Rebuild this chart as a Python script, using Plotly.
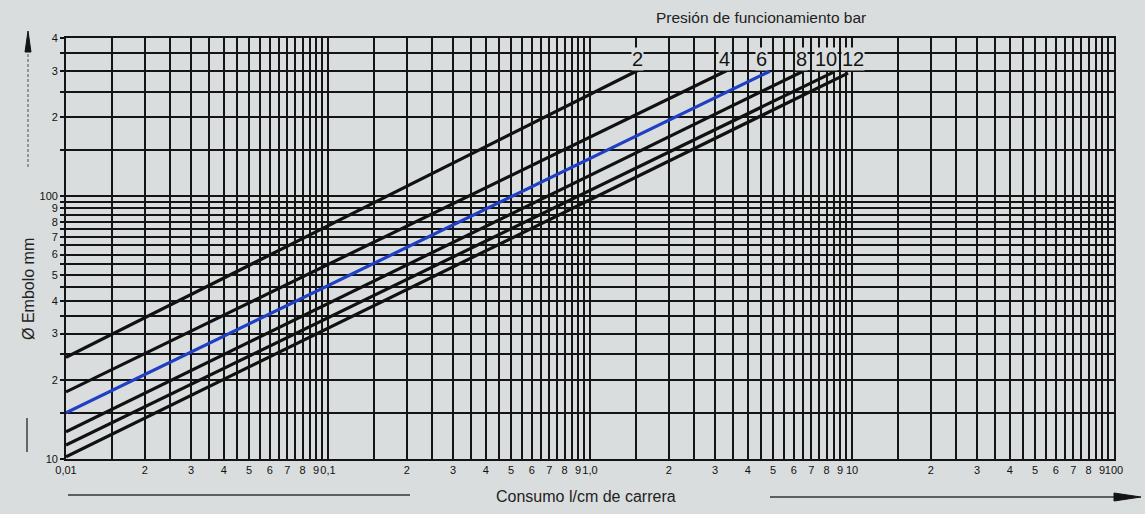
import math
import plotly.graph_objects as go

# ---- data ----
presiones = [2, 4, 6, 8, 10, 12]                      # bar
consumo_ini = [0.01, 0.01, 0.01, 0.01, 0.01, 0.01]    # l/cm at left edge
embolo_ini = [24.4, 18.0, 15.0, 12.7, 11.3, 10.2]     # mm at left edge
consumo_fin = [1.52, 3.33, 4.86, 6.50, 8.46, 9.66]    # l/cm at line end
embolo_fin = [301, 301, 299, 299, 296, 294]           # mm at line end
colores = ["#111111", "#111111", "#1f3fc4", "#111111", "#111111", "#111111"]
etiqueta_x = [1.52, 3.27, 4.51, 6.44, 7.95, 10.1]      # label positions
etiqueta_y = 332

# axis grid / tick definitions
decadas_x = [0.01, 0.1, 1, 10]
decada_txt_x = ["0,01", "0,1", "1,0", "10"]
pasos = [1, 1.5, 2, 2.5, 3, 3.5, 4, 4.5, 5, 5.5, 6, 6.5, 7, 7.5, 8, 8.5, 9, 9.5]
paso_txt = ["", "", "2", "", "3", "", "4", "", "5", "", "6", "", "7", "", "8", "", "9", ""]
ultimo_x, ultimo_txt_x = 100, "100"

y_vals = [10, 15, 20, 25, 30, 35, 40, 45, 50, 55, 60, 65, 70, 75, 80, 85, 90, 95,
          100, 150, 200, 250, 300, 350, 400]
y_txt = ["10", "", "2", "", "3", "", "4", "", "5", "", "6", "", "7", "", "8", "", "9", "",
         "100", "", "2", "", "3", "", "4"]

x_vals, x_txt = [], []
for d, dt in zip(decadas_x, decada_txt_x):
    for p, pt in zip(pasos, paso_txt):
        x_vals.append(d * p)
        x_txt.append(dt if p == 1 else pt)
x_vals.append(ultimo_x)
x_txt.append(ultimo_txt_x)

BG = "#dadddd"
INK = "#141414"
FONT = "Liberation Sans, Arial, sans-serif"
NARROW = "Liberation Sans Narrow, Arial Narrow, Liberation Sans, sans-serif"

fig = go.Figure()
for p, x0, y0, x1, y1, c in zip(presiones, consumo_ini, embolo_ini, consumo_fin, embolo_fin, colores):
    fig.add_trace(go.Scatter(x=[x0, x1], y=[y0, y1], mode="lines",
                             line=dict(color=c, width=3.2), name=f"{p} bar",
                             showlegend=False, hoverinfo="skip"))

for p, lx in zip(presiones, etiqueta_x):
    fig.add_annotation(x=math.log10(lx), y=math.log10(etiqueta_y), xref="x", yref="y",
                       text=str(p), showarrow=False, xanchor="center", yanchor="middle",
                       font=dict(family=NARROW, size=20, color=INK),
                       bgcolor=BG, borderpad=0)

fig.update_xaxes(type="log", range=[-2, 2], tickvals=x_vals, ticktext=x_txt,
                 showgrid=True, gridcolor=INK, gridwidth=1.8, ticks="", zeroline=False,
                 showline=True, linecolor=INK, linewidth=1.8, mirror=True,
                 tickfont=dict(family=FONT, size=11, color="#111111"), tickangle=0)
fig.update_yaxes(type="log", range=[1, 2.60206], tickvals=y_vals, ticktext=y_txt,
                 showgrid=True, gridcolor=INK, gridwidth=1.8, ticks="outside", ticklen=4,
                 tickcolor=INK, tickwidth=1.5, zeroline=False,
                 showline=True, linecolor=INK, linewidth=1.8, mirror=True,
                 tickfont=dict(family=FONT, size=11, color="#111111"))

# axis captions and decorations (paper coordinates)
W, L, T = 1048.0, 66.0, 38.0
H = 421.0
def px(x):
    return (x - L) / W
def py(y):
    return (T + H - y) / H

fig.add_annotation(x=px(761), y=py(17), xref="paper", yref="paper",
                   xanchor="center", yanchor="middle",
                   text="Presión de funcionamiento bar", showarrow=False,
                   font=dict(family=FONT, size=15.5, color="#222222"))
fig.add_annotation(x=px(586), y=py(496), xref="paper", yref="paper",
                   xanchor="center", yanchor="middle",
                   text="Consumo l/cm de carrera", showarrow=False,
                   font=dict(family=FONT, size=16, color="#222222"))
fig.add_annotation(x=px(28), y=py(289), xref="paper", yref="paper",
                   xanchor="center", yanchor="middle",
                   text="Ø Embolo mm", showarrow=False, textangle=-90,
                   font=dict(family=FONT, size=16, color="#222222"))

shapes = [
    dict(type="line", xref="paper", yref="paper", x0=px(28), x1=px(28), y0=py(167), y1=py(50),
         line=dict(color="#666666", width=1.2, dash="3px,2px")),
    dict(type="path", xref="paper", yref="paper",
         path=f"M {px(28)} {py(31)} L {px(25)} {py(52)} L {px(31)} {py(52)} Z",
         fillcolor=INK, line=dict(color=INK, width=1)),
    dict(type="line", xref="paper", yref="paper", x0=px(27), x1=px(27), y0=py(418), y1=py(452),
         line=dict(color="#333333", width=1.4)),
    dict(type="line", xref="paper", yref="paper", x0=px(68), x1=px(410), y0=py(495), y1=py(495),
         line=dict(color="#333333", width=1.4)),
    dict(type="line", xref="paper", yref="paper", x0=px(770), x1=px(1122), y0=py(497), y1=py(497),
         line=dict(color="#333333", width=1.4)),
    dict(type="path", xref="paper", yref="paper",
         path=f"M {px(1141)} {py(497)} L {px(1114)} {py(493)} L {px(1114)} {py(501)} Z",
         fillcolor=INK, line=dict(color=INK, width=1)),
]
fig.update_layout(shapes=shapes)

fig.update_layout(width=1145, height=514, paper_bgcolor=BG, plot_bgcolor=BG,
                  margin=dict(l=66, r=31, t=38, b=55), showlegend=False,
                  font=dict(family=FONT, color=INK))

fig.write_html("out.html")
